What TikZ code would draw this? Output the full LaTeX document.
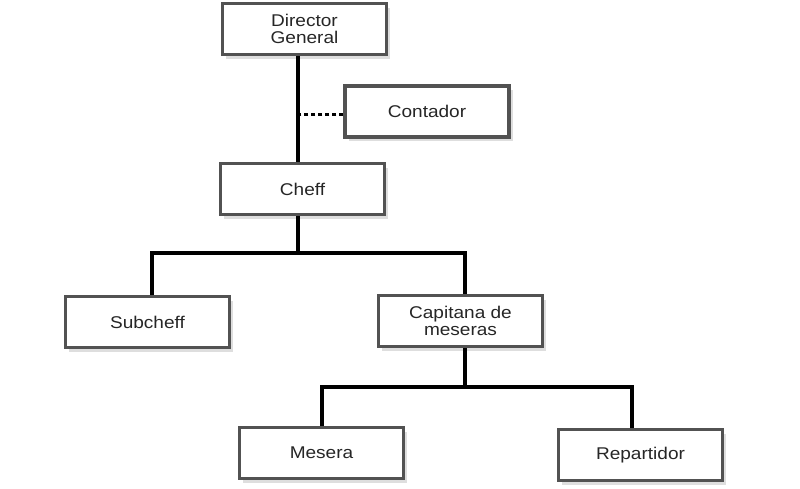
\documentclass[tikz,border=0pt]{standalone}
\usepackage{fontspec}
\setmainfont[FakeStretch=1.12]{Liberation Sans}
\usetikzlibrary{shadows}
\begin{document}
\begin{tikzpicture}[x=1pt,y=1pt,
  box/.style={draw=black!68, line width=3.5pt, fill=white, minimum width=164pt, minimum height=51pt,
    align=center, text=black!85, font=\fontsize{17}{17}\selectfont,
    drop shadow={shadow xshift=3.5pt, shadow yshift=-4.5pt, fill=black!25}},
  link/.style={line width=4pt, black},
  dots/.style={line width=3pt, black, dash pattern=on 4pt off 3pt}]
\useasboundingbox (0,0) rectangle (800,-489);
\fill[white] (0,0) rectangle (800,-489);
\node[box] (dg) at (304.5,-29) {Director\\General};
\node[box] (cont) at (427,-111.5) {Contador};
\node[box] (cheff) at (302.5,-189) {Cheff};
\node[box] (sub) at (147.5,-322) {Subcheff};
\node[box] (cap) at (460.5,-321) {Capitana de\\meseras};
\node[box] (mes) at (321.5,-453) {Mesera};
\node[box] (rep) at (640.5,-455) {Repartidor};
\coordinate (v1) at (298,-115);
\coordinate (j1) at (298,-253);
\coordinate (j2) at (465,-387);
\draw[dots] (cont.west |- v1) -- (v1);
\draw[link] (dg.south -| v1) -- (cheff.north -| v1);
\draw[link] (cheff.south -| j1) -- (j1);
\draw[link] ([xshift=4.5pt]sub.north) |- (j1) -| ([xshift=4.5pt]cap.north);
\draw[link] (cap.south -| j2) -- (j2);
\draw[link] (mes.north) |- (j2) -| ([xshift=-8.5pt]rep.north);
\end{tikzpicture}
\end{document}
